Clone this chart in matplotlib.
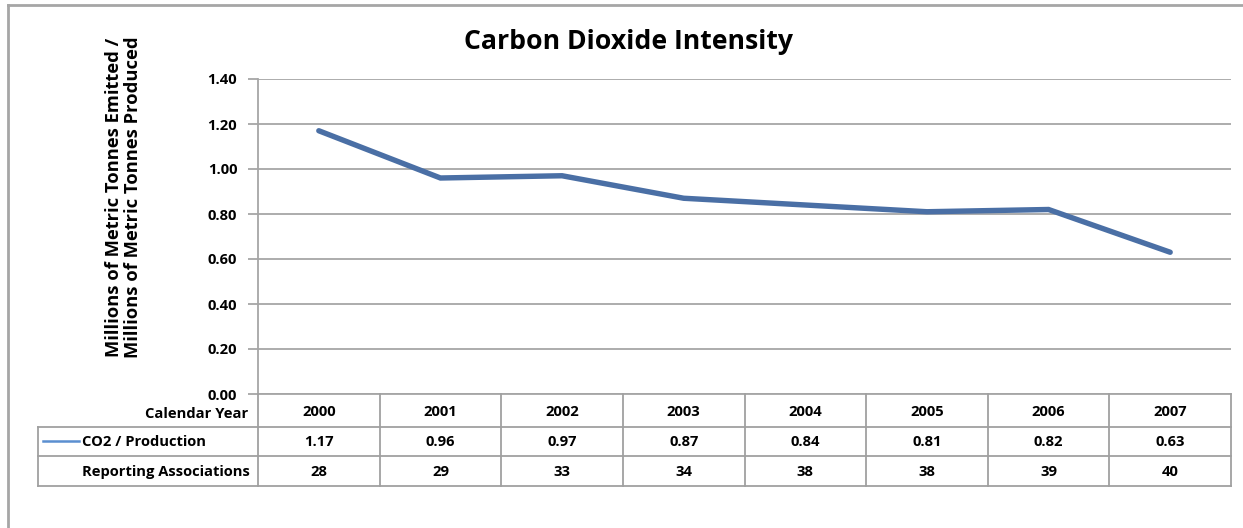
import matplotlib
matplotlib.use("Agg")
import matplotlib.pyplot as plt
from matplotlib import transforms
from matplotlib.lines import Line2D

# ---- data ----
years = ["2000", "2001", "2002", "2003", "2004", "2005", "2006", "2007"]
co2_per_production = [1.17, 0.96, 0.97, 0.87, 0.84, 0.81, 0.82, 0.63]
reporting_associations = [28, 29, 33, 34, 38, 38, 39, 40]
yticks = [0.00, 0.20, 0.40, 0.60, 0.80, 1.00, 1.20, 1.40]
title = "Carbon Dioxide Intensity"
ylabel = "Millions of Metric Tonnes Emitted /\nMillions of Metric Tonnes Produced"
row_header = "Calendar Year"
series_name = "CO2 / Production"
row2_name = "Reporting Associations"

W, H = 1243, 528
plt.rcParams['font.family'] = ['Open Sans', 'DejaVu Sans']
plt.rcParams['font.weight'] = 'bold'

def fx(px):
    return px / W

def fy(px):
    return 1 - px / H

GRID = '#a6a6a6'
LINE = '#4a6fa5'
LEG = '#5b8fd0'

fig = plt.figure(figsize=(W / 100, H / 100), dpi=100)
ax = fig.add_axes([fx(258), fy(394), fx(1231) - fx(258), fy(79) - fy(394)])

x = list(range(len(years)))
ax.plot(x, co2_per_production, color=LINE, lw=3.9, solid_capstyle='round',
        solid_joinstyle='miter', zorder=3)
ax.set_xlim(-0.5, len(years) - 0.5)
ax.set_ylim(0, 1.4)
ax.set_yticks(yticks)
ax.set_yticklabels([f"{v:.2f}" for v in yticks])
ax.set_xticks([])
ax.grid(axis='y', color=GRID, lw=1.3)
ax.set_axisbelow(True)
for s in ['top', 'right']:
    ax.spines[s].set_visible(False)
for s in ['left', 'bottom']:
    ax.spines[s].set_color(GRID)
    ax.spines[s].set_linewidth(1.3)
TS = 10.6
ax.tick_params(axis='y', length=7, width=1.3, color=GRID, pad=8,
               labelsize=TS, labelcolor='black')
for lab in ax.get_yticklabels():
    lab.set_fontweight('bold')

# title
fig.text(fx(628), fy(42), title, ha='center', va='center', fontsize=19.2,
         fontweight='bold')
# y label
fig.text(fx(123.5), fy(197), ylabel, ha='center', va='center', rotation=90,
         fontsize=13.2, fontweight='bold', linespacing=1.12)

# outer border
fig.add_artist(Line2D([fx(7.5), fx(7.5)], [fy(4.5), 0], transform=fig.transFigure,
                      color=GRID, lw=2))
fig.add_artist(Line2D([fx(7.5), 1], [fy(4.5), fy(4.5)], transform=fig.transFigure,
                      color=GRID, lw=2))

# data table
bt = transforms.blended_transform_factory(ax.transData, fig.transFigure)
TC = '#a0a0a0'
for k in range(len(years) + 1):
    xx = -0.5 + k
    fig.add_artist(Line2D([xx, xx], [fy(394), fy(486)], transform=bt, color=TC, lw=1.3))
for yy in [427, 456, 486]:
    fig.add_artist(Line2D([fx(38), fx(1231)], [fy(yy), fy(yy)], transform=fig.transFigure,
                          color=TC, lw=1.3))
fig.add_artist(Line2D([fx(38), fx(38)], [fy(427), fy(486)], transform=fig.transFigure,
                      color=TC, lw=1.3))

for i, yr in enumerate(years):
    fig.text(i, fy(412), yr, transform=bt, ha='center', va='center', fontsize=TS, fontweight='bold')
    fig.text(i, fy(442), f"{co2_per_production[i]:.2f}", transform=bt, ha='center', va='center',
             fontsize=TS, fontweight='bold')
    fig.text(i, fy(472), f"{reporting_associations[i]}", transform=bt, ha='center', va='center',
             fontsize=TS, fontweight='bold')

fig.text(fx(248), fy(414), row_header, ha='right', va='center', fontsize=TS, fontweight='bold')
fig.text(fx(82), fy(442), series_name, ha='left', va='center', fontsize=TS, fontweight='bold')
fig.text(fx(82), fy(472), row2_name, ha='left', va='center', fontsize=TS, fontweight='bold')
fig.add_artist(Line2D([fx(43), fx(79)], [fy(441), fy(441)], transform=fig.transFigure,
                      color=LEG, lw=1.8))

fig.savefig("out.png", dpi=100)
